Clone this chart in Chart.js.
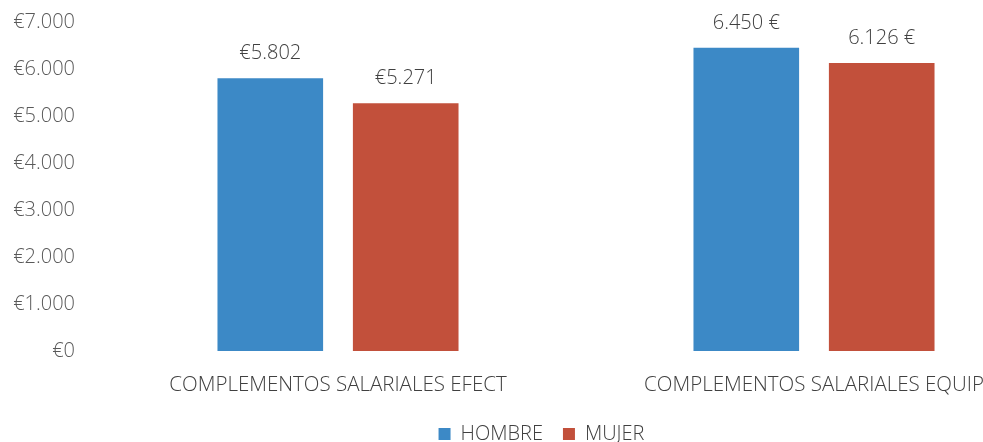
<!DOCTYPE html>
<html>
<head>
<meta charset="utf-8">
<script src="https://cdn.jsdelivr.net/npm/chart.js@4"></script>
<style>
html,body{margin:0;padding:0;background:#fff;overflow:hidden;}
</style>
</head>
<body>
<canvas id="c" width="983" height="442"></canvas>
<script>
const categories = ['COMPLEMENTOS SALARIALES EFECT', 'COMPLEMENTOS SALARIALES EQUIP'];
const hombre = [5802, 6450];
const mujer = [5271, 6126];
const seriesNames = ['HOMBRE', 'MUJER'];
const labelStyles = ['prefix', 'suffix'];
const yTicks = [0, 1000, 2000, 3000, 4000, 5000, 6000, 7000];

const FONT = "'Open Sans', 'Liberation Sans', sans-serif";
const FW = '300';
function fmtNum(v){ return v.toString().replace(/\B(?=(\d{3})+(?!\d))/g, '.'); }
function fmtLabel(v, i){ return labelStyles[i] === 'prefix' ? '€' + fmtNum(v) : fmtNum(v) + ' €'; }

// Plot area of the reference; it runs past the right edge of the picture (cropped).
const AREA = { top: 22, bottom: 351, right: 1052 };
const LEGEND_CENTER_Y = 429;
const fixPlot = {
  id: 'fixPlot',
  afterLayout(chart){
    const ca = chart.chartArea;
    const x = chart.scales.x, y = chart.scales.y;
    ca.top = AREA.top; ca.bottom = AREA.bottom; ca.right = AREA.right;
    ca.width = ca.right - ca.left; ca.height = ca.bottom - ca.top;
    const xh = x.height;
    x.right = AREA.right; x.width = x.right - x.left;
    x.top = AREA.bottom; x.bottom = AREA.bottom + xh;
    x.configure();
    y.top = AREA.top; y.bottom = AREA.bottom; y.height = AREA.bottom - AREA.top;
    y.configure();
    const lg = chart.legend;
    if (lg) {
      const d = LEGEND_CENTER_Y - (lg.top + lg.bottom) / 2;
      lg.top += d; lg.bottom += d;
    }
  }
};

const dataLabels = {
  id: 'dataLabels',
  afterDatasetsDraw(chart){
    const ctx = chart.ctx;
    ctx.save();
    ctx.font = FW + " 20px " + FONT;
    ctx.fillStyle = '#404040';
    ctx.textAlign = 'center';
    ctx.textBaseline = 'middle';
    chart.data.datasets.forEach((ds, di) => {
      chart.getDatasetMeta(di).data.forEach((bar, i) => {
        ctx.fillText(fmtLabel(ds.data[i], i), bar.x, bar.y - 25);
      });
    });
    ctx.restore();
  }
};

new Chart(document.getElementById('c'), {
  type: 'bar',
  data: {
    labels: categories,
    datasets: [
      { label: seriesNames[0], data: hombre, backgroundColor: '#3c89c6' },
      { label: seriesNames[1], data: mujer, backgroundColor: '#c2503b' }
    ]
  },
  options: {
    responsive: false,
    animation: false,
    layout: { autoPadding: false, padding: { left: 0, right: 0, top: 0, bottom: 0 } },
    datasets: { bar: { categoryPercentage: 0.569, barPercentage: 0.78 } },
    scales: {
      x: {
        grid: { display: false },
        border: { display: false },
        ticks: { color: '#404040', font: { family: FONT, size: 20.5, weight: FW }, padding: 14, maxRotation: 0, autoSkip: false }
      },
      y: {
        min: 0, max: 7000,
        afterBuildTicks(axis){ axis.ticks = yTicks.map(v => ({ value: v })); },
        afterFit(axis){ axis.width = 100; },
        grid: { display: false },
        border: { display: false },
        ticks: { color: '#595959', font: { family: FONT, size: 20, weight: FW }, padding: 17,
          callback: v => '€' + fmtNum(v) }
      }
    },
    plugins: {
      legend: {
        position: 'bottom',
        fullSize: false,
        labels: { color: '#404040', font: { family: FONT, size: 20, weight: FW }, boxWidth: 12, boxHeight: 12, padding: 20 }
      },
      tooltip: { enabled: false }
    }
  },
  plugins: [fixPlot, dataLabels]
});
</script>
</body>
</html>
